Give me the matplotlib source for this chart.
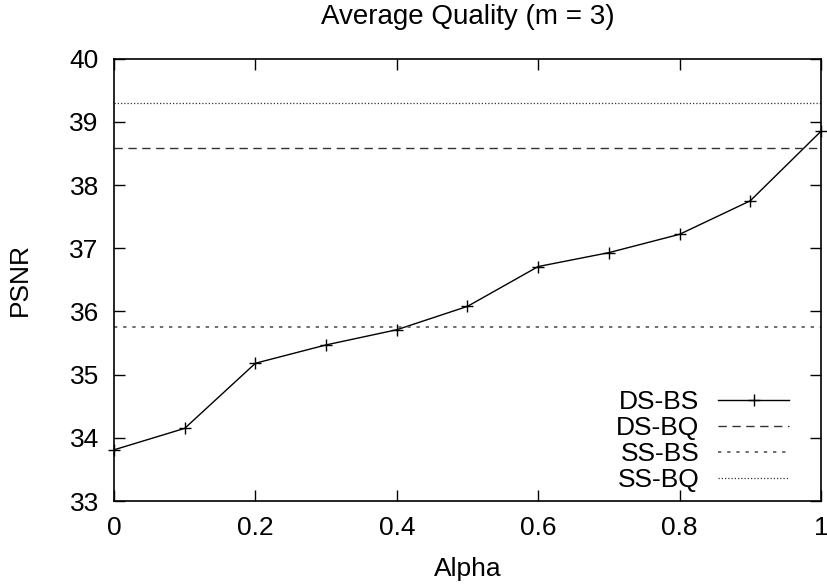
import numpy as np
import matplotlib
matplotlib.use("Agg")
import matplotlib.pyplot as plt

plt.rcParams['font.family'] = ['Liberation Sans', 'DejaVu Sans']

# valores
alpha = [0.0, 0.1, 0.2, 0.3, 0.4, 0.5, 0.6, 0.7, 0.8, 0.9, 1.0]
ds_bs = [33.81, 34.15, 35.18, 35.47, 35.71, 36.08, 36.71, 36.93, 37.22, 37.75, 38.85]
ds_bq = 38.59
ss_bs = 35.75
ss_bq = 39.30

fig = plt.figure(figsize=(8.28, 5.86), dpi=100)
ax = fig.add_axes([0.1377, 0.145, 0.8538, 0.755])

ax.plot(alpha, ds_bs, color='black', lw=1, marker='+', ms=8, mew=1, label='DS-BS', clip_on=False)
ax.axhline(ds_bq, color='#333333', lw=1, ls=(0, (6, 4)), label='DS-BQ')
ax.axhline(ss_bs, color='#555555', lw=1.2, ls=(0, (2, 3.5)), label='SS-BS')
ax.axhline(ss_bq, color='#333333', lw=0.9, ls=(0, (1, 1.6)), label='SS-BQ')

ax.set_xlim(0, 1)
ax.set_ylim(33, 40)
ax.set_xticks([0, 0.2, 0.4, 0.6, 0.8, 1])
ax.set_xticklabels(['0', '0.2', '0.4', '0.6', '0.8', '1'])
ax.set_yticks(range(33, 41))
ax.tick_params(direction='in', length=8, width=1, top=True, right=True,
               labelsize=19, pad=11)
for s in ax.spines.values():
    s.set_linewidth(1.2)

ax.set_xlabel('Alpha', fontsize=19, labelpad=12)
ax.set_ylabel('PSNR', fontsize=19, labelpad=27)
ax.set_title('Average Quality (m = 3)', fontsize=20, pad=25)

leg = ax.legend(loc='lower right', frameon=False, markerfirst=False, fontsize=19,
                handlelength=2.7, labelspacing=0.08, handletextpad=0.7,
                borderpad=0.0, borderaxespad=0.0, bbox_to_anchor=(0.955, 0.02))

fig.savefig('out.png', dpi=100)
